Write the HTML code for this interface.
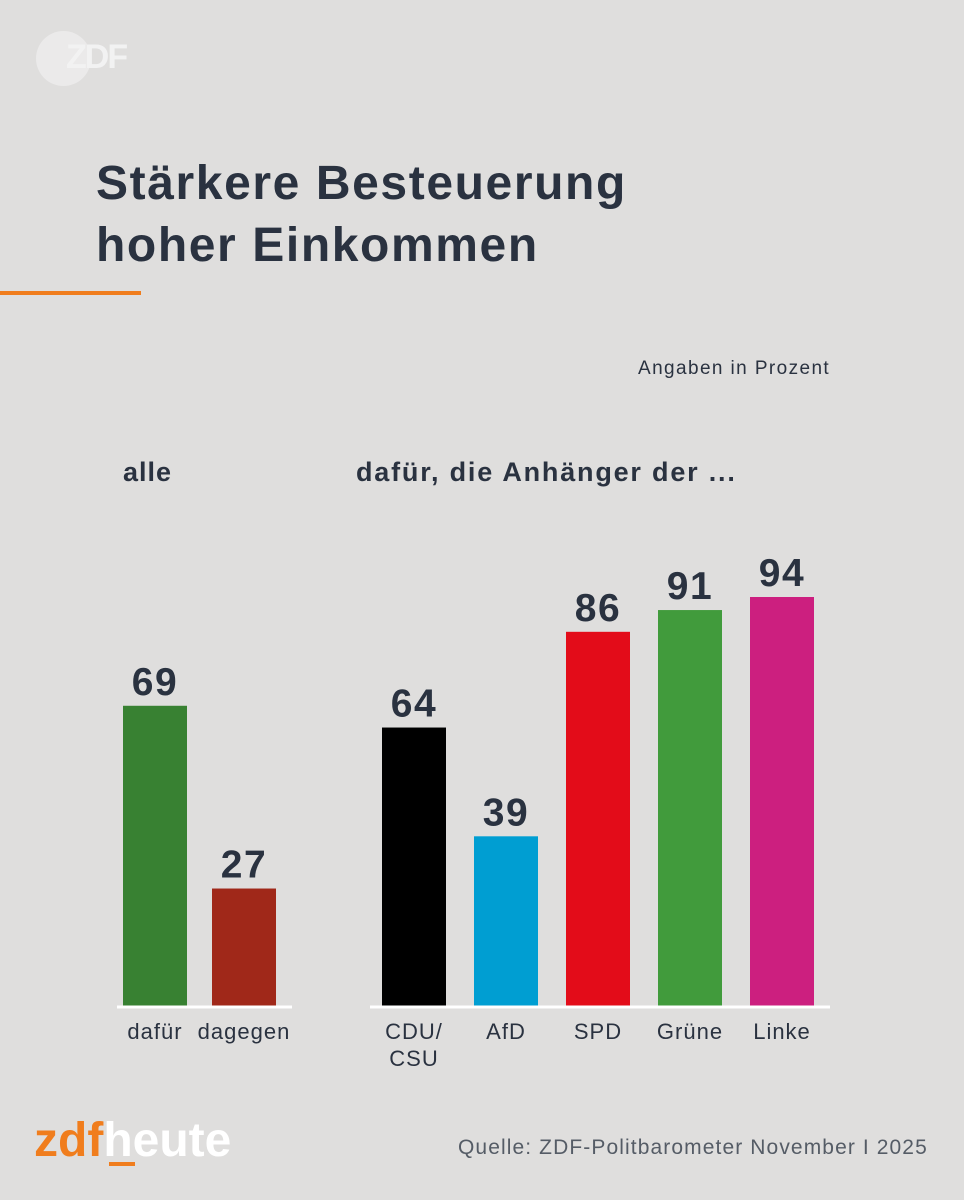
<!DOCTYPE html>
<html><head><meta charset="utf-8"><style>
body{margin:0;width:964px;height:1200px;background:#dfdedd;font-family:"Liberation Sans",sans-serif;position:relative;overflow:hidden;color:#2a3240}
.a{position:absolute;white-space:nowrap}
</style></head><body>
<div class="a" style="left:36px;top:31px;width:55px;height:55px;border-radius:50%;background:#ebeaea"></div>
<div class="a" style="left:66px;top:38px;font-size:34px;font-weight:bold;color:#f2f2f2;letter-spacing:-2px">ZDF</div>
<div class="a" style="left:96px;top:153px;font-size:48px;font-weight:bold;line-height:62px;letter-spacing:1.6px;color:#2a3240">Stärkere Besteuerung<br>hoher Einkommen</div>
<div class="a" style="left:0;top:291px;width:141px;height:4px;background:#f07d1d"></div>
<div class="a" style="left:638px;top:358px;font-size:19px;letter-spacing:1.4px">Angaben in Prozent</div>
<div class="a" style="left:123px;top:457px;font-size:27px;font-weight:bold;letter-spacing:1px">alle</div>
<div class="a" style="left:356px;top:457px;font-size:27px;font-weight:bold;letter-spacing:1.8px">dafür, die Anhänger der ...</div>
<svg class="a" style="left:0;top:0" width="964" height="1200" id="chart"></svg>
<div class="a" style="left:34px;top:1113px;font-size:48px;font-weight:bold;letter-spacing:0px"><span style="color:#f07d1d">zdf</span><span style="color:#fff">heute</span></div>
<div class="a" style="left:109px;top:1162px;width:26px;height:4px;background:#f07d1d"></div>
<div class="a" style="left:458px;top:1136px;font-size:21px;letter-spacing:1.1px;color:#555c66">Quelle: ZDF-Politbarometer November I 2025</div>
<script>
const allCats=["dafür","dagegen"];
const allVals=[69,27];
const allColors=["#388132","#a02819"];
const partyCats=["CDU/\nCSU","AfD","SPD","Grüne","Linke"];
const partyVals=[64,39,86,91,94];
const partyColors=["#000000","#009ed2","#e30c19","#419b3c","#cc1f7f"];
const svg=document.getElementById('chart');
const NS='http://www.w3.org/2000/svg';
const base=1006, k=409/94;
function y(v){return base-v*k;}
function el(t,a){const e=document.createElementNS(NS,t);for(const n in a)e.setAttribute(n,a[n]);svg.appendChild(e);return e;}
function group(cats,vals,cols,x0,step,lx1,lx2,prefix){
  cats.forEach((c,i)=>{
    const x=x0+i*step;
    const r=el('rect',{x:x,y:y(vals[i]),width:64,height:vals[i]*k,fill:cols[i]});
    
    
    const t=el('text',{x:x+32,y:y(vals[i])-11,'text-anchor':'middle','font-size':39,'font-weight':'bold','letter-spacing':1.5,fill:'#2a3240'});
    t.textContent=vals[i];
    
    
    const lines=c.split('\n');
    lines.forEach((ln,j)=>{
      const l=el('text',{x:x+32,y:1039+j*27,'text-anchor':'middle','font-size':22,'letter-spacing':1,fill:'#2a3240'});
      l.textContent=ln;
      
      
    });
  });
  const b=el('line',{x1:lx1,x2:lx2,y1:base+1,y2:base+1,stroke:'#fff','stroke-width':3});
  
  
}
group(allCats,allVals,allColors,123,89,117,292,'all');
group(partyCats,partyVals,partyColors,382,92,370,830,'party');
</script>
</body></html>
